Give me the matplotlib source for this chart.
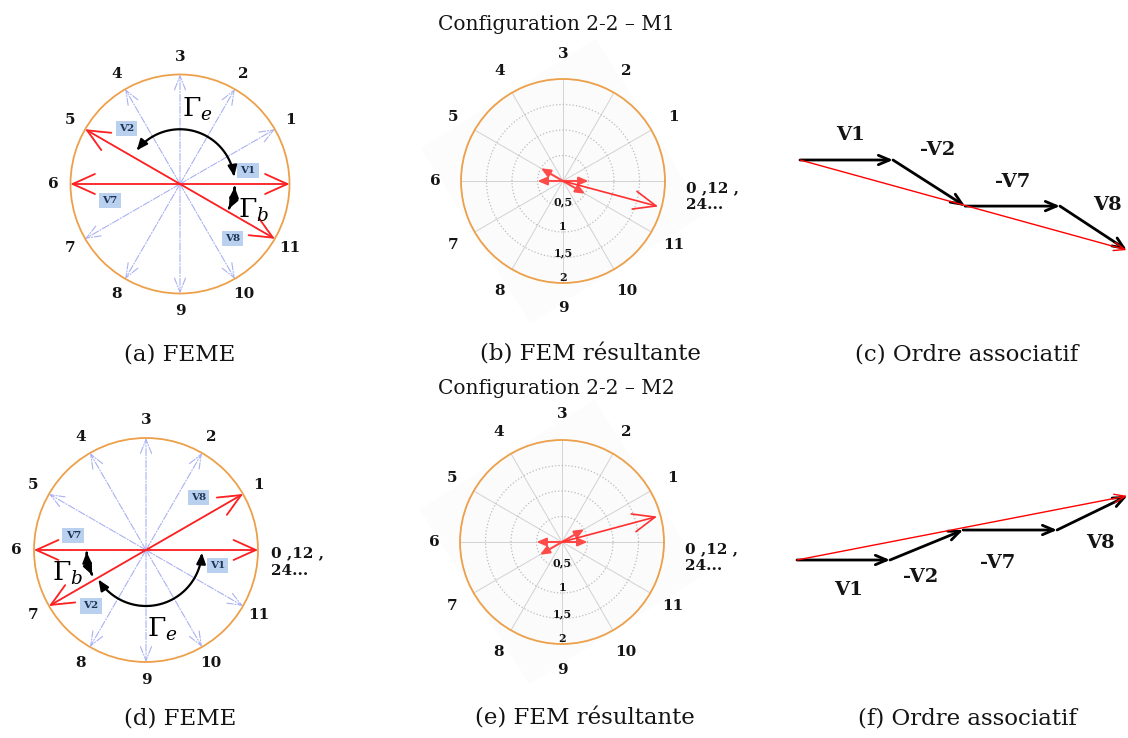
import numpy as np
import matplotlib
matplotlib.use('Agg')
import matplotlib.pyplot as plt
from matplotlib.patches import Circle, Polygon, FancyArrowPatch
from matplotlib.path import Path

plt.rcParams['font.family'] = ['DejaVu Serif']
plt.rcParams['mathtext.fontset'] = 'dejavuserif'

W, H = 1128, 738
fig = plt.figure(figsize=(W / 100, H / 100), dpi=100)

# ---------------- data ----------------
positions = list(range(12))                 # phase positions, 30 deg apart
step_deg = 30
pos_labels = ['0 ,12 ,\n24...', '1', '2', '3', '4', '5', '6', '7', '8', '9', '10', '11']
vec_names = ['V1', 'V2', 'V7', 'V8']
signs = [1, -1, -1, 1]                      # V1 - V2 - V7 + V8
m1_positions = [0, 5, 6, 11]
m2_positions = [0, 7, 6, 1]
amp = 0.5                                   # amplitude of each FEME
r_ticks = [0.5, 1, 1.5, 2]
r_tick_labels = ['0,5', '1', '1,5', '2']

chain_names = ['V1', '-V2', '-V7', 'V8']
m1_chain_angles = [0, -32.6, 0, -33.3]
m1_chain_lengths = [1.0, 0.92, 1.02, 0.86]
m2_chain_angles = [0, 22.3, 0, 25.9]
m2_chain_lengths = [1.0, 0.85, 1.01, 0.84]

# torque arcs (start deg, end deg, radius)
m1_gammas = [(8, 142, 0.5), (-3, -27, 0.5)]
m2_gammas = [(-3, -148, 0.5), (182, 205, 0.53)]

# ---------------- style ----------------
ORANGE = '#eda04a'
RED = '#ff2020'
BLUE = '#a9b1f2'
TXT = '#141414'
NUM_FS = 11


def rect(cx, cy, hw, hh):
    return [(cx - hw) / W, 1 - (cy + hh) / H, 2 * hw / W, 2 * hh / H]


def feme_panel(cx, cy, R, red_pos, vlabel_xy, gammas, gamma_xy, show_zero):
    half = 150
    ax = fig.add_axes(rect(cx, cy, half, half))
    lim = half / R
    ax.set_xlim(-lim, lim)
    ax.set_ylim(-lim, lim)
    ax.axis('off')
    ax.add_patch(Circle((0, 0), 1, fill=False, ec=ORANGE, lw=1.3, zorder=1))
    for p in positions:
        a = np.deg2rad(p * step_deg)
        ax.annotate('', xy=(np.cos(a), np.sin(a)), xytext=(0, 0),
                    arrowprops=dict(arrowstyle='->,head_length=0.5,head_width=0.2',
                                    color=BLUE, lw=0.8, ls='-.', shrinkA=0, shrinkB=0,
                                    mutation_scale=20), zorder=2)
        lbl = pos_labels[p]
        if p == 0:
            if show_zero:
                ax.text(1.12, 0.03, lbl, ha='left', va='top', fontsize=NUM_FS,
                        fontweight='bold', color=TXT, linespacing=1.3, clip_on=False)
            continue
        rr = 1.16
        ax.text(rr * np.cos(a), rr * np.sin(a), lbl, ha='center', va='center',
                fontsize=NUM_FS, fontweight='bold', color=TXT, clip_on=False)
    for name, p, (lx, ly) in zip(vec_names, red_pos, vlabel_xy):
        a = np.deg2rad(p * step_deg)
        ax.annotate('', xy=(np.cos(a), np.sin(a)), xytext=(0, 0),
                    arrowprops=dict(arrowstyle='->,head_length=0.8,head_width=0.36',
                                    color=RED, lw=1.3, shrinkA=0, shrinkB=0,
                                    mutation_scale=20), zorder=3)
        ax.text(lx, ly, name, ha='center', va='center', fontsize=7.5, fontweight='bold',
                color='#1d3557', zorder=4,
                bbox=dict(boxstyle='square,pad=0.3', fc='#b9d1ef', ec='none'))
    for (a0, a1, r), (gx, gy), g in zip(gammas, gamma_xy, ['e', 'b']):
        t = np.deg2rad(np.linspace(a0, a1, 60))
        path = Path(np.column_stack([r * np.cos(t), r * np.sin(t)]))
        ax.add_patch(FancyArrowPatch(path=path,
                                     arrowstyle='<|-|>,head_length=0.7,head_width=0.3',
                                     mutation_scale=9, lw=1.6, color='black', zorder=5))
        ax.text(gx, gy, r'$\Gamma_%s$' % g, ha='center', va='center', fontsize=19,
                color='black', zorder=5)
    return ax


def fem_panel(cx, cy, Rpx, comp_pos, title, title_y):
    bg = fig.add_axes(rect(cx, cy, Rpx, Rpx))
    bg.set_xlim(-2, 2)
    bg.set_ylim(-2, 2)
    bg.axis('off')
    ca = np.deg2rad(np.array([-13, 77, 167, 257]))
    bg.add_patch(Polygon(np.column_stack([2.86 * np.cos(ca), 2.86 * np.sin(ca)]),
                         closed=True, fc='#fcfcfc', ec='none', clip_on=False, zorder=0))
    ax = fig.add_axes(rect(cx, cy, Rpx, Rpx), projection='polar')
    ax.set_facecolor('#fbfbfb')
    ax.set_ylim(0, 2)
    ax.set_yticks(r_ticks)
    ax.set_yticklabels([])
    ax.set_xticks(np.deg2rad(np.arange(0, 360, step_deg)))
    ax.set_xticklabels([])
    ax.xaxis.grid(True, color='#d2d2d2', ls='-', lw=0.7)
    ax.yaxis.grid(True, color='#bdbdbd', ls=':', lw=0.9)
    ax.spines['polar'].set_color(ORANGE)
    ax.spines['polar'].set_linewidth(1.3)
    z = 0
    for p, s in zip(comp_pos, signs):
        a = np.deg2rad(p * step_deg)
        z += s * amp * np.exp(1j * a)
        ax.annotate('', xy=(a, amp), xytext=(0, 0),
                    arrowprops=dict(arrowstyle='-|>,head_length=0.7,head_width=0.3',
                                    color='#ff4a4a', lw=1.5, shrinkA=0, shrinkB=0,
                                    mutation_scale=8))
    ax.annotate('', xy=(np.angle(z), np.abs(z)), xytext=(0, 0),
                arrowprops=dict(arrowstyle='->,head_length=0.8,head_width=0.33',
                                color='#ff3030', lw=1.2, shrinkA=0, shrinkB=0,
                                mutation_scale=20))
    for p in positions:
        a = np.deg2rad(p * step_deg)
        if p == 0:
            ax.text(a, 2.42, pos_labels[p], ha='left', va='top', fontsize=NUM_FS,
                    fontweight='bold', color=TXT, linespacing=1.3, clip_on=False)
        else:
            ax.text(a, 2.5, pos_labels[p], ha='center', va='center', fontsize=NUM_FS,
                    fontweight='bold', color=TXT, clip_on=False)
    for r, lbl in zip(r_ticks, r_tick_labels):
        ax.text(1.5 * np.pi, r - 0.1, lbl, ha='center', va='center', fontsize=8,
                fontweight='bold', color=TXT)
    fig.text(556 / W, 1 - title_y / H, title, ha='center', va='center', fontsize=14.5,
             color=TXT)
    return ax


def chain_panel(x0, y0, x1, y1, start, angles, lengths, offsets):
    ax = fig.add_axes([x0 / W, 1 - y1 / H, (x1 - x0) / W, (y1 - y0) / H])
    ax.axis('off')
    scale = 93.0
    ax.set_xlim((x0 - start[0]) / scale, (x1 - start[0]) / scale)
    ax.set_ylim(-(y1 - start[1]) / scale, (start[1] - y0) / scale)
    p = np.array([0.0, 0.0])
    for name, ang, L, off in zip(chain_names, angles, lengths, offsets):
        a = np.deg2rad(ang)
        q = p + L * np.array([np.cos(a), np.sin(a)])
        ax.annotate('', xy=q, xytext=p,
                    arrowprops=dict(arrowstyle='->,head_length=0.4,head_width=0.17',
                                    color='black', lw=2, shrinkA=0, shrinkB=0,
                                    mutation_scale=20), annotation_clip=False)
        mid = (p + q) / 2
        ax.annotate(name, xy=mid, xytext=off, textcoords='offset pixels',
                    ha='center', va='center', fontsize=14, fontweight='bold', color=TXT,
                    annotation_clip=False)
        p = q
    ax.annotate('', xy=p, xytext=(0, 0),
                arrowprops=dict(arrowstyle='->,head_length=0.4,head_width=0.15',
                                color='red', lw=1, shrinkA=0, shrinkB=0,
                                mutation_scale=20), annotation_clip=False)
    return ax


# ---------------- panels ----------------
feme_panel(180, 184, 109.5, m1_positions,
           [(0.62, 0.12), (-0.49, 0.51), (-0.64, -0.15), (0.48, -0.50)],
           m1_gammas, [(0.16, 0.68), (0.67, -0.24)], False)
feme_panel(146, 550, 112, m2_positions,
           [(0.64, -0.14), (-0.49, -0.50), (-0.65, 0.13), (0.47, 0.47)],
           m2_gammas, [(0.15, -0.71), (-0.70, -0.21)], True)

fem_panel(563, 181, 102, m1_positions, 'Configuration 2-2 \u2013 M1', 25)
fem_panel(562, 542, 102, m2_positions, 'Configuration 2-2 \u2013 M2', 388)

chain_panel(780, 100, 1128, 280, (800, 160), m1_chain_angles, m1_chain_lengths,
            [(4, 25), (9, 33), (0, 24), (14, 23)])
chain_panel(780, 470, 1128, 620, (797, 560), m2_chain_angles, m2_chain_lengths,
            [(5, -30), (-6, -32), (-12, -33), (8, -30)])

captions = ['(a) FEME', '(b) FEM résultante', '(c) Ordre associatif',
            '(d) FEME', '(e) FEM résultante', '(f) Ordre associatif']
cap_x = [180, 590, 967, 180, 585, 967]
cap_y = [355, 355, 355, 718, 718, 718]
for t, x, y in zip(captions, cap_x, cap_y):
    fig.text(x / W, 1 - y / H, t, ha='center', va='center', fontsize=16.5, color=TXT)

fig.savefig('out.png', dpi=100, facecolor='white')
